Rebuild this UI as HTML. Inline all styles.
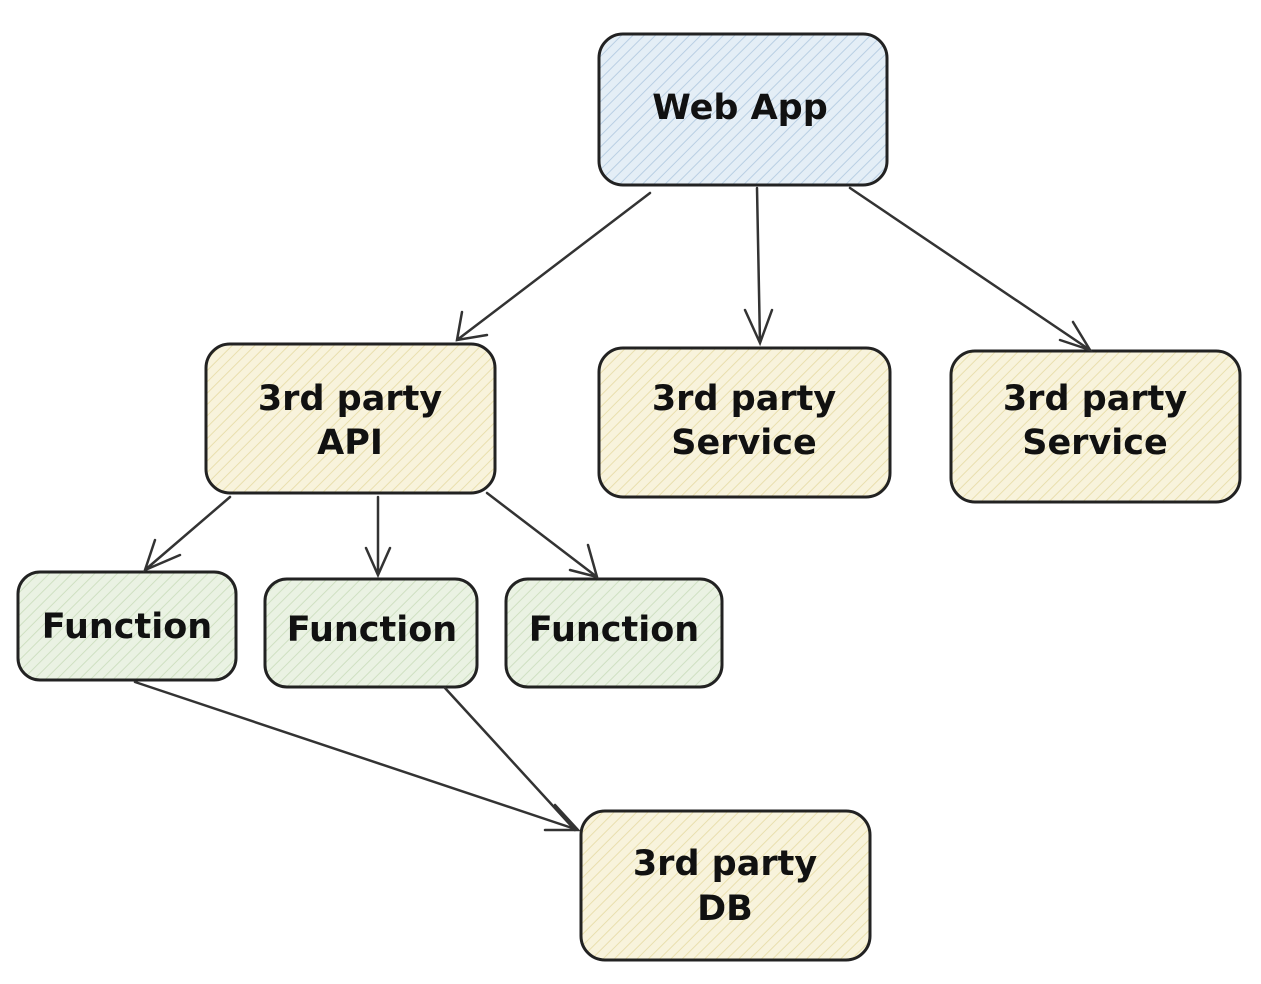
<!DOCTYPE html>
<html><head><meta charset="utf-8"><style>
html,body{margin:0;padding:0;background:#fff;width:1261px;height:984px;overflow:hidden}
svg text{font-family:"DejaVu Sans","Liberation Sans",sans-serif;font-weight:bold;fill:#111;text-anchor:middle}
</style></head><body>
<svg width="1261" height="984" viewBox="0 0 1261 984" xmlns="http://www.w3.org/2000/svg">
<defs>
<pattern id="hb" width="8" height="8" patternUnits="userSpaceOnUse" patternTransform="rotate(45)"><rect width="8" height="8" fill="#e4eef6"/><line x1="0" y1="0" x2="0" y2="8" stroke="#b9cfe3" stroke-width="2"/></pattern>
<pattern id="hy" width="8" height="8" patternUnits="userSpaceOnUse" patternTransform="rotate(45)"><rect width="8" height="8" fill="#f8f3dc"/><line x1="0" y1="0" x2="0" y2="8" stroke="#e9dfae" stroke-width="2"/></pattern>
<pattern id="hg" width="8" height="8" patternUnits="userSpaceOnUse" patternTransform="rotate(45)"><rect width="8" height="8" fill="#eaf2e3"/><line x1="0" y1="0" x2="0" y2="8" stroke="#cfe0c2" stroke-width="2"/></pattern>
</defs>
<g stroke="#222" stroke-width="3">
<rect x="599" y="34" width="288" height="151" rx="24" fill="url(#hb)"/>
<rect x="206" y="344" width="289" height="149" rx="24" fill="url(#hy)"/>
<rect x="599" y="348" width="291" height="149" rx="24" fill="url(#hy)"/>
<rect x="951" y="351" width="289" height="151" rx="24" fill="url(#hy)"/>
<rect x="18" y="572" width="218" height="108" rx="22" fill="url(#hg)"/>
<rect x="265" y="579" width="212" height="108" rx="22" fill="url(#hg)"/>
<rect x="506" y="579" width="216" height="108" rx="22" fill="url(#hg)"/>
<rect x="581" y="811" width="289" height="149" rx="24" fill="url(#hy)"/>
</g>
<g stroke="#333" stroke-width="2.5" fill="none" stroke-linecap="round">
<path d="M650 193 L457 340 M462 312 L457 340 L487 335"/>
<path d="M757 188 L760 343 M745 310 L760 343 L772 310"/>
<path d="M850 188 L1090 350 M1060 340 L1090 350 L1073 322"/>
<path d="M230 497 L145 570 M155 540 L145 570 L180 555"/>
<path d="M378 497 L378 575 M366 548 L378 575 L390 548"/>
<path d="M487 493 L597 577 M570 570 L597 577 L588 545"/>
<path d="M135 682 L578 830 M545 830 L578 830 L555 805"/>
<path d="M445 688 L575 830"/>
</g>
<text x="740" y="119" font-size="35">Web App</text>
<text x="350" y="410" font-size="35">3rd party</text>
<text x="350" y="454" font-size="35">API</text>
<text x="744" y="410" font-size="35">3rd party</text>
<text x="744" y="454" font-size="35">Service</text>
<text x="1095" y="410" font-size="35">3rd party</text>
<text x="1095" y="454" font-size="35">Service</text>
<text x="127" y="638" font-size="35">Function</text>
<text x="372" y="641" font-size="35">Function</text>
<text x="614" y="641" font-size="35">Function</text>
<text x="725" y="875" font-size="35">3rd party</text>
<text x="725" y="920" font-size="35">DB</text>
</svg>
</body></html>
